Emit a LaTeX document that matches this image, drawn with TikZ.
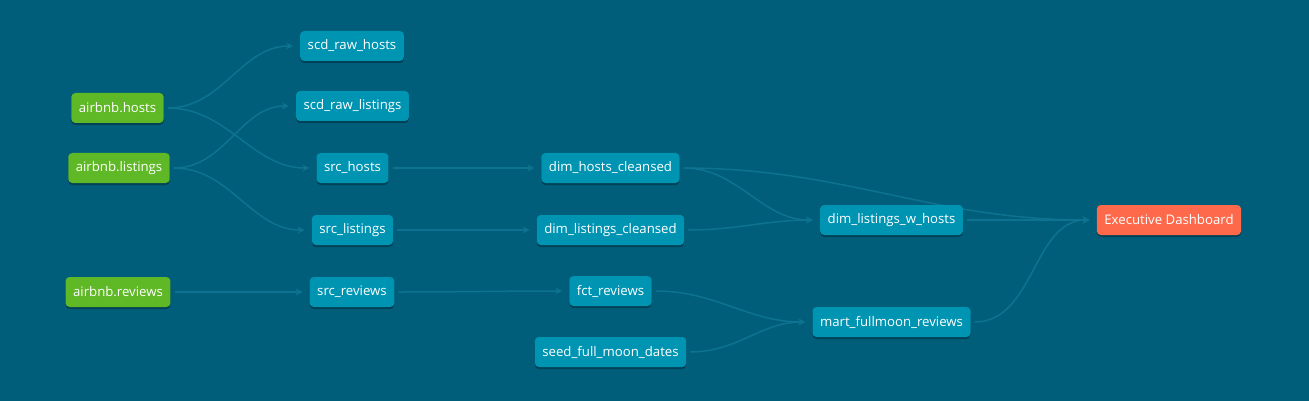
\documentclass[tikz,border=0pt]{standalone}
\usepackage{fontspec}
\setmainfont{Open Sans}
\usetikzlibrary{arrows.meta, shadows}

\definecolor{dagbg}{HTML}{005E7A}
\definecolor{modelcol}{HTML}{0094B3}
\definecolor{sourcecol}{HTML}{5FB825}
\definecolor{exposcol}{HTML}{FF694B}
\definecolor{edgecol}{HTML}{0D7390}

\pgfdeclarelayer{canvas}
\pgfdeclarelayer{edges}
\pgfsetlayers{canvas,edges,main}

\tikzset{
  dagnode/.style={rounded corners=4pt, text=white, inner xsep=7.5pt,
    minimum height=30pt, font=\fontsize{13.2}{15}\selectfont,
    drop shadow={shadow xshift=0pt, shadow yshift=-2pt, fill=black, opacity=0.3}},
  srcnode/.style={dagnode, fill=sourcecol},
  mdlnode/.style={dagnode, fill=modelcol},
  exnode/.style={dagnode, fill=exposcol},
  dep/.style={draw=edgecol, line width=1.5pt, shorten <=4pt, shorten >=7pt,
    -{Stealth[length=7pt,width=7pt]}},
}

\begin{document}
\begin{tikzpicture}[x=1pt, y=-1pt]
  \begin{pgfonlayer}{canvas}
    \fill[dagbg] (0,0) rectangle (1309,401);
  \end{pgfonlayer}
  \useasboundingbox (0,0) rectangle (1309,401);
  % sources
  \foreach \name/\x/\y/\txt in {
    hosts/117.5/108/airbnb.hosts,
    listings/119/168/airbnb.listings,
    reviews/118/292/airbnb.reviews%
  }{
    \node[srcnode] (\name) at (\x,\y) {\txt};
  }
  % models
  \foreach \name/\x/\y/\txt in {
    scdhosts/352/46/scd\_raw\_hosts,
    scdlistings/352.5/106/scd\_raw\_listings,
    srchosts/352.5/168/src\_hosts,
    srclistings/352.5/230/src\_listings,
    srcreviews/352/292/src\_reviews,
    dimhosts/610.5/168/dim\_hosts\_cleansed,
    dimlistings/610.5/230/dim\_listings\_cleansed,
    fctreviews/610.5/291/fct\_reviews,
    seedmoon/610.5/352/seed\_full\_moon\_dates,
    dimwhosts/891.5/220/dim\_listings\_w\_hosts,
    martmoon/891.5/322/mart\_fullmoon\_reviews%
  }{
    \node[mdlnode] (\name) at (\x,\y) {\txt};
  }
  % exposure
  \node[exnode] (dashboard) at (1169,220) {Executive Dashboard};
  % lineage edges
  \begin{pgfonlayer}{edges}
  \foreach \a/\b in {
    hosts/scdhosts, hosts/srchosts,
    listings/scdlistings, listings/srclistings,
    reviews/srcreviews,
    srchosts/dimhosts, srclistings/dimlistings, srcreviews/fctreviews,
    dimhosts/dimwhosts, dimlistings/dimwhosts,
    fctreviews/martmoon, seedmoon/martmoon,
    dimhosts/dashboard, dimwhosts/dashboard, martmoon/dashboard%
  }{
    \draw[dep] (\a.east) to[out=0, in=180] (\b.west);
  }
  \end{pgfonlayer}
\end{tikzpicture}
\end{document}
